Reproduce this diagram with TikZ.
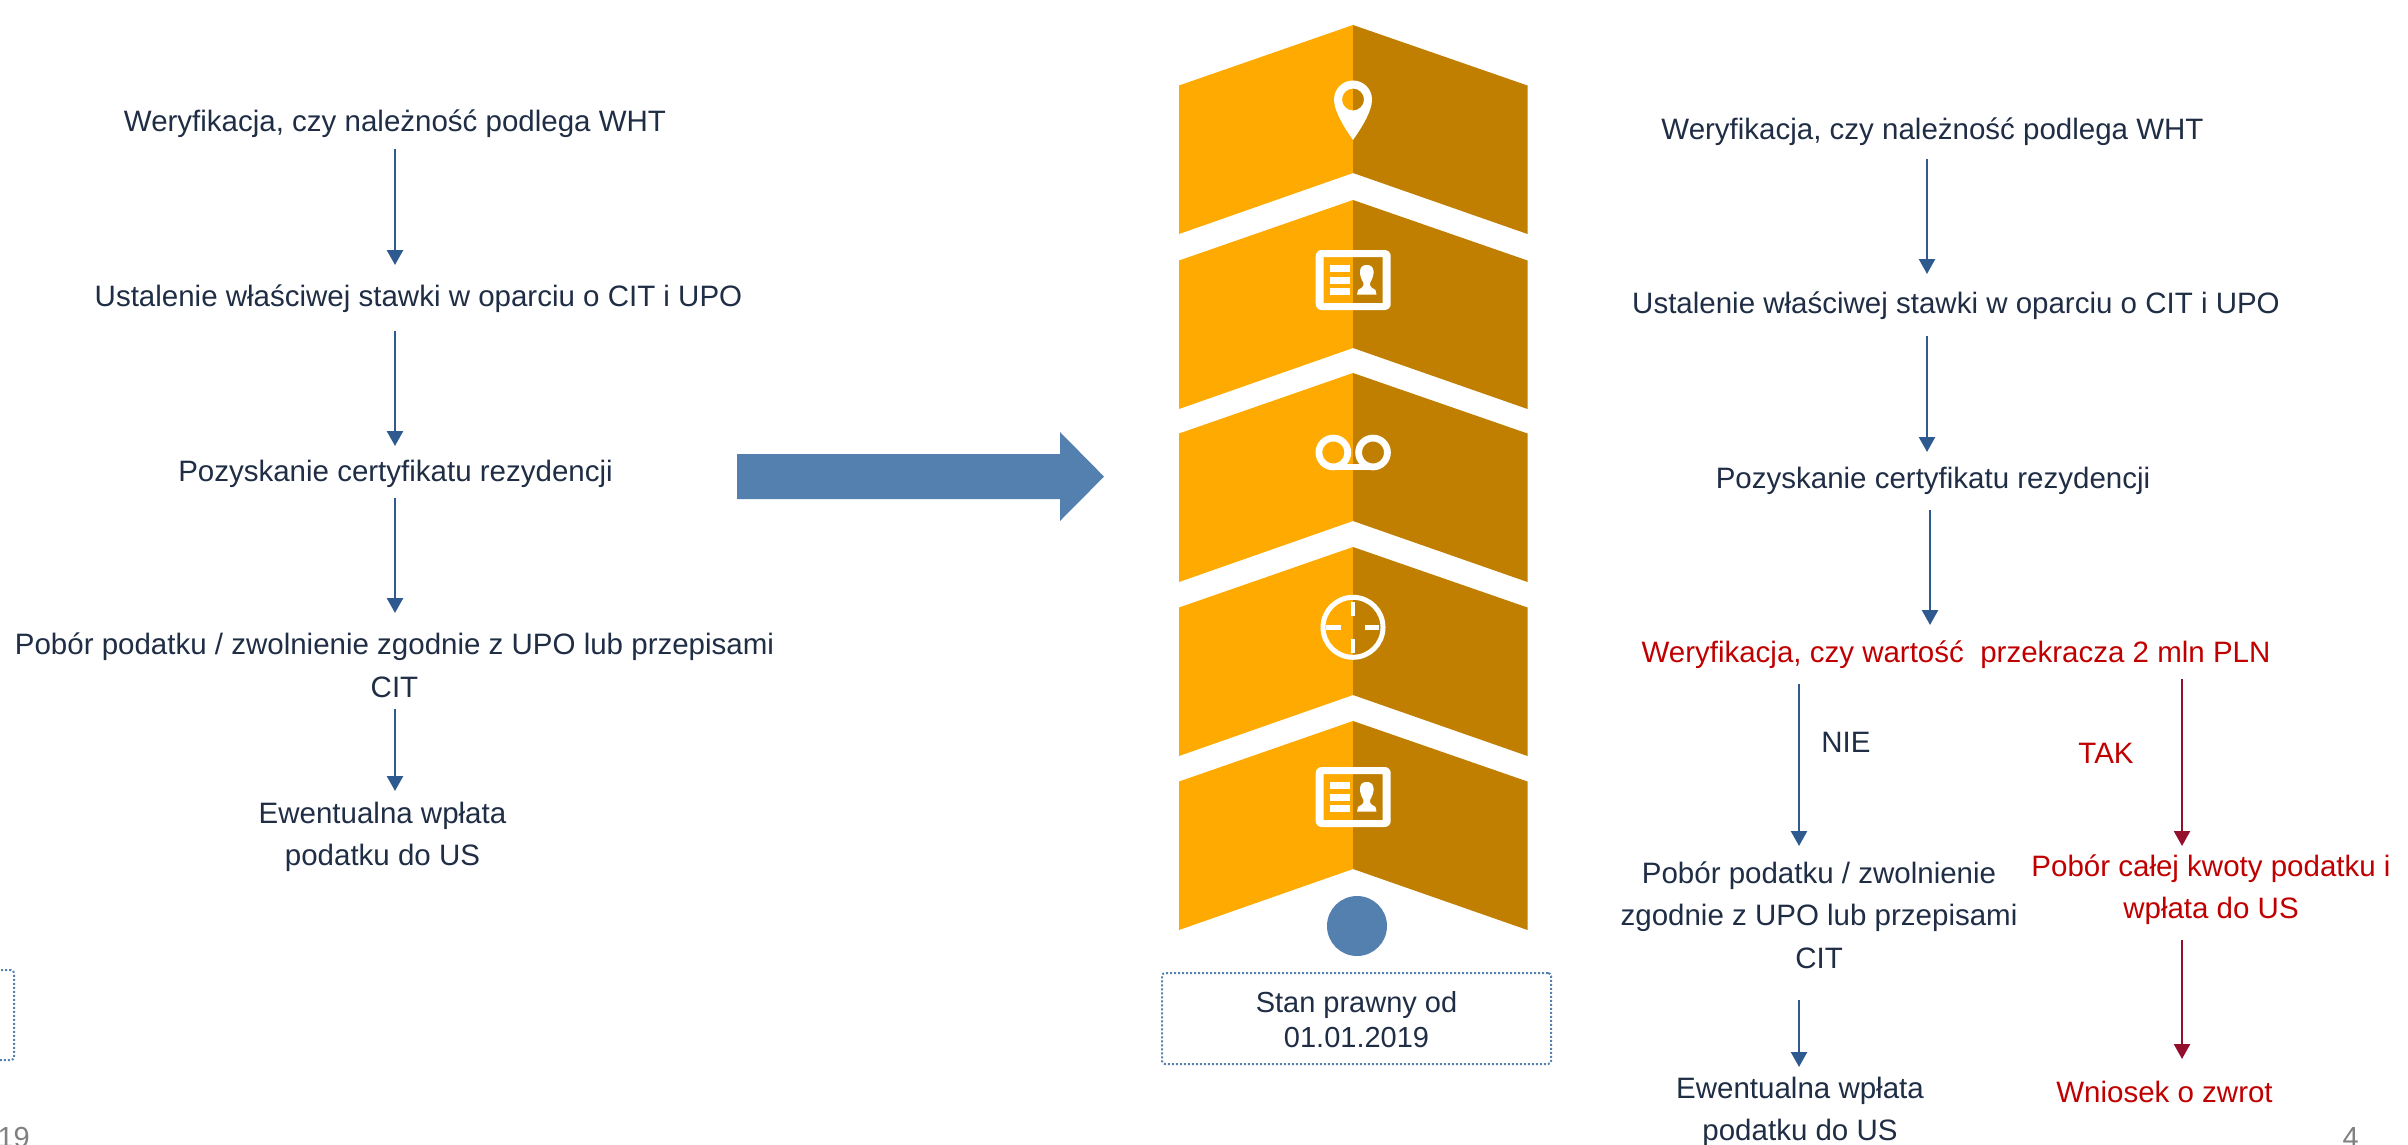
\documentclass[tikz,border=0pt]{standalone}
\usepackage{fontspec}
\setmainfont{Liberation Sans}
\usetikzlibrary{arrows.meta}
\definecolor{ink}{HTML}{1F2D45}
\definecolor{redtxt}{HTML}{C00000}
\definecolor{arrblue}{HTML}{2F5A8F}
\definecolor{arrred}{HTML}{940F2C}
\definecolor{steel}{HTML}{5480B0}
\definecolor{amber}{HTML}{FFAA00}
\definecolor{amberdk}{HTML}{C07F00}
\definecolor{pagegrey}{HTML}{808080}
\newcommand{\ls}{\rule[-7pt]{0pt}{29pt}}
\newcommand{\idcard}[1]{%
  \begin{scope}[shift={(0,#1)}]
    \fill[white,even odd rule] (1321.7,0) -- (1384.7,0) .. controls (1388,0) and (1390.7,2.7) .. (1390.7,6) -- (1390.7,54) .. controls (1390.7,57.3) and (1388,60) .. (1384.7,60) -- (1321.7,60) .. controls (1318.4,60) and (1315.7,57.3) .. (1315.7,54) -- (1315.7,6) .. controls (1315.7,2.7) and (1318.4,0) .. (1321.7,0) -- cycle (1323.7,7) rectangle (1382.7,53);
    \fill[white] (1330,15.3) rectangle (1349.7,22);
    \fill[white] (1330,26.7) rectangle (1349.7,33.7);
    \fill[white] (1330,38) rectangle (1349.7,44.7);
    \fill[white] (1357,44.7) -- (1358,40) .. controls (1361,38.5) and (1364,37) .. (1363.5,33) .. controls (1361,29) and (1359.5,24) .. (1360,21) .. controls (1360.5,16.5) and (1363,15) .. (1366.7,15) .. controls (1370.5,15) and (1373,16.5) .. (1373.5,21) .. controls (1374,24) and (1372.5,29) .. (1370,33) .. controls (1369.5,37) and (1372.5,38.5) .. (1375.5,40) -- (1376.5,44.7) -- cycle;
  \end{scope}}
\tikzset{
  txt/.style={font=\fontsize{29.5}{42}\selectfont,text=ink,inner sep=0pt,align=center,anchor=north},
  redt/.style={txt,text=redtxt},
  pageno/.style={font=\fontsize{29}{35}\selectfont,text=pagegrey,inner sep=0pt,anchor=base},
  arrb/.style={draw=arrblue,line width=2.5pt,-{Triangle[length=15pt,width=16pt]},shorten >=0pt},
  arrr/.style={draw=arrred,line width=2.5pt,-{Triangle[length=15pt,width=16pt]},shorten >=0pt},
  dotbox/.style={draw=steel,line width=2pt,dash pattern=on 2pt off 2pt,rounded corners=3pt,inner sep=0pt}
}
\begin{document}
\begin{tikzpicture}[x=1pt,y=-1pt]
\useasboundingbox (0,0) rectangle (2408,1145);

% chevrons
\foreach \a in {25,200,373,547,721}{
  \fill[amber] (1353,\a) -- (1179,\a+60.5) -- (1179,\a+209) -- (1353,\a+148) -- cycle;
  \fill[amberdk] (1353,\a) -- (1527.5,\a+60.5) -- (1527.5,\a+209) -- (1353,\a+148) -- cycle;
}
% pin
\fill[white,even odd rule] (1353,140) .. controls (1346,130) and (1334,112) .. (1334,99.5) .. controls (1334,89) and (1342.5,80.5) .. (1353,80.5) .. controls (1363.5,80.5) and (1372,89) .. (1372,99.5) .. controls (1372,112) and (1360,130) .. (1353,140) -- cycle (1353,99.5) circle (11);
% id cards
\idcard{250}
\idcard{767}
% voicemail
\draw[white,line width=6.8pt] (1333.3,452.5) circle (14.4);
\draw[white,line width=6.8pt] (1373,452.5) circle (14.4);
\draw[white,line width=6.8pt] (1333.3,467) -- (1373,467);
% target
\draw[white,line width=5pt] (1353,627.3) circle (30);
\draw[white,line width=4.5pt] (1353,602) -- (1353,616);
\draw[white,line width=4.5pt] (1353,639) -- (1353,653);
\draw[white,line width=4.5pt] (1326,627.3) -- (1340.7,627.3);
\draw[white,line width=4.5pt] (1365,627.3) -- (1379,627.3);
% circle and big arrow
\fill[steel] (1357,926) circle (30);
\fill[steel] (737,454) -- (1060,454) -- (1060,432) -- (1104,476.6) -- (1060,521) -- (1060,499) -- (737,499) -- cycle;

% boxes
\node[dotbox,minimum width=389pt,minimum height=91pt,font=\fontsize{29}{35}\selectfont,text=ink,align=center] (state) at (1356.5,1018.5) {\rule{0pt}{24pt}Stan prawny od\\01.01.2019};
\node[dotbox,minimum width=389pt,minimum height=90pt] (oldstate) at (-180.5,1015) {};

% left column
\node[txt] (L1) at (395,109) {\ls Weryfikacja, czy należność podlega WHT};
\node[txt] (L2) at (418.5,284) {\ls Ustalenie właściwej stawki w oparciu o CIT i UPO};
\node[txt] (L3) at (395.5,459) {\ls Pozyskanie certyfikatu rezydencji};
\node[txt] (L4) at (394.5,632) {\ls Pobór podatku / zwolnienie zgodnie z UPO lub przepisami\\[1pt]\ls CIT};
\node[txt] (L5) at (382.5,801) {\ls Ewentualna wpłata\\\ls podatku do US};
\draw[arrb] ([shift={(0,11)}]L1.south) -- ([shift={(-23.5,-19)}]L2.north);
\draw[arrb] ([shift={(-23.5,18)}]L2.south) -- ([shift={(-.5,-13)}]L3.north);
\draw[arrb] ([shift={(-.5,10)}]L3.south) -- ([shift={(.5,-19)}]L4.north);
\draw[arrb] ([shift={(.5,5)}]L4.south) -- ([shift={(12.5,-10)}]L5.north);

% right column
\node[txt] (R1) at (1932.5,117.5) {\ls Weryfikacja, czy należność podlega WHT};
\node[txt] (R2) at (1956,291.5) {\ls Ustalenie właściwej stawki w oparciu o CIT i UPO};
\node[txt] (R3) at (1933,466.5) {\ls Pozyskanie certyfikatu rezydencji};
\node[redt] (R4) at (1956,640) {\ls Weryfikacja, czy wartość\ \ przekracza 2 mln PLN};
\node[txt] (R5) at (1819,861) {\ls Pobór podatku / zwolnienie\\\ls zgodnie z UPO lub przepisami\\[1pt]\ls CIT};
\node[redt] (R6) at (2211,854) {\ls Pobór całej kwoty podatku i\\\ls wpłata do US};
\node[txt] (R7) at (1800,1076) {\ls Ewentualna wpłata\\\ls podatku do US};
\node[redt] (R8) at (2164.5,1080) {\ls Wniosek o zwrot};
\node[txt] (nie) at (1846,730) {\ls NIE};
\node[redt] (tak) at (2106,741) {\ls TAK};
\draw[arrb] ([shift={(-5.5,12.5)}]R1.south) -- ([shift={(-29,-17.5)}]R2.north);
\draw[arrb] ([shift={(-29,15.5)}]R2.south) -- ([shift={(-6,-14.5)}]R3.north);
\draw[arrb] ([shift={(-3,14.5)}]R3.south) -- ([shift={(-26,-15)}]R4.north);
\draw[arrb] ([shift={(-157,15)}]R4.south) -- ([shift={(-20,-15)}]R5.north);
\draw[arrr] ([shift={(226,10)}]R4.south) -- ([shift={(-29,-8)}]R6.north);
\draw[arrb] ([shift={(-20,25)}]R5.south) -- ([shift={(-1,-9)}]R7.north);
\draw[arrr] ([shift={(-29,15)}]R6.south) -- ([shift={(17.5,-21)}]R8.north);

% page numbers
\node[pageno,anchor=base east] (pg1) at (30,1147) {19};
\node[pageno,anchor=base east] (pg2) at (2359,1147) {4};
\end{tikzpicture}
\end{document}
